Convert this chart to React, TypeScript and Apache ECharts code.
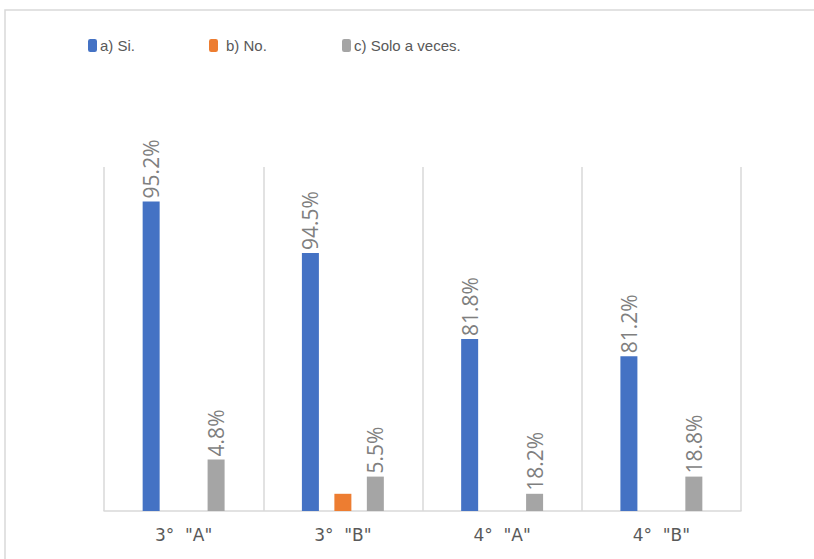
import React, { useEffect, useRef } from "react";
import * as echarts from "echarts";

const categories = ['3°  "A"', '3°  "B"', '4°  "A"', '4°  "B"'];
const seriesNames = ["a) Si.", "b) No.", "c) Solo a veces."];
const siValues = [18, 15, 10, 9];
const noValues = [0, 1, 0, 0];
const soloValues = [3, 2, 1, 2];
const siLabels = ["95.2%", "94.5%", "81.8%", "81.2%"];
const noLabels = ["", "", "", ""];
const soloLabels = ["4.8%", "5.5%", "18.2%", "18.8%"];
const colors = ["#4472C4", "#ED7D31", "#A5A5A5"];

const FONT = "'Open Sans', 'Noto Sans', sans-serif";
const LEG_FONT = "'Liberation Sans', Arial, sans-serif";
const AXIS_FONT = "'DejaVu Sans', sans-serif";

export default function App() {
  const ref = useRef<HTMLDivElement>(null);
  useEffect(() => {
    if (!ref.current) return;
    const chart = echarts.init(ref.current, undefined, { renderer: "svg" });
    const mkLabel = (labels: string[]) => ({
      show: true,
      position: "top",
      rotate: 90,
      align: "left",
      verticalAlign: "middle",
      distance: 3,
      color: "#7F7F7F",
      fontSize: 21,
      fontFamily: FONT,
      formatter: (p: any) => labels[p.dataIndex],
    });
    const legendBase = {
      top: 38,
      padding: 0,
      itemWidth: 9,
      itemHeight: 13,
      itemGap: 4,
      textStyle: { color: "#595959", fontSize: 15, fontFamily: LEG_FONT, padding: [0, 0, 0, -2] },
      selectedMode: false,
    };
    const allLabels = [siLabels, noLabels, soloLabels];
    const allValues = [siValues, noValues, soloValues];
    chart.setOption({
      animation: false,
      graphic: [
        {
          type: "rect",
          shape: { x: 5, y: 10, width: 900, height: 700 },
          style: { fill: "none", stroke: "#D9D9D9", lineWidth: 1.5 },
          silent: true,
        },
      ],
      legend: [
        { ...legendBase, left: 88, data: [seriesNames[0]] },
        { ...legendBase, left: 209, data: [seriesNames[1]], textStyle: { ...legendBase.textStyle, padding: [0, 0, 0, 3] } },
        { ...legendBase, left: 342, data: [seriesNames[2]] },
      ],
      grid: { left: 104, right: 73, top: 167, bottom: 48, containLabel: false },
      xAxis: {
        type: "category",
        data: categories,
        axisLine: { show: true, lineStyle: { color: "#D9D9D9", width: 1.5 } },
        axisTick: { show: false },
        splitLine: { show: true, lineStyle: { color: "#D9D9D9", width: 1.5 } },
        axisLabel: { color: "#595959", fontSize: 17, fontFamily: AXIS_FONT, margin: 15 },
      },
      yAxis: {
        type: "value",
        min: 0,
        max: 20,
        show: false,
        splitLine: { show: false },
      },
      series: seriesNames.map((name, i) => ({
        name,
        type: "bar",
        data: allValues[i],
        barWidth: 17,
        barGap: "91%",
        itemStyle: { color: colors[i] },
        label: mkLabel(allLabels[i]),
      })),
    });
    return () => chart.dispose();
  }, []);
  return (
    <div
      ref={ref}
      style={{ position: "absolute", left: 0, top: 0, width: 814, height: 559, background: "#fff" }}
    />
  );
}
